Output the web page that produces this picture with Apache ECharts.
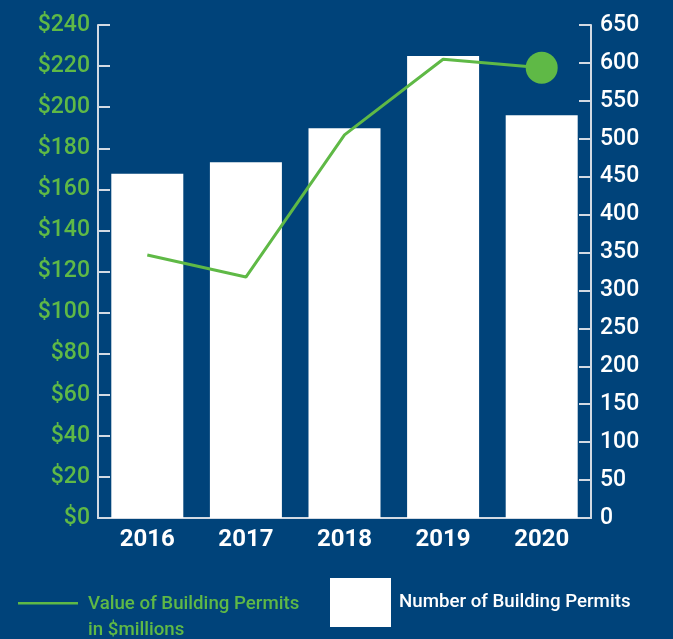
<!DOCTYPE html>
<html>
<head>
<meta charset="utf-8">
<script src="https://cdn.jsdelivr.net/npm/echarts@6/dist/echarts.min.js"></script>
<style>
    html, body { margin: 0; padding: 0; background: #00437a; }
    #chart { width: 673px; height: 639px; }
</style>
</head>
<body>
<div id="chart"></div>
<script>
// data
const years = ['2016', '2017', '2018', '2019', '2020'];
const permitCount = [454, 469, 514, 609, 531];          // bars, right axis
const permitValue = [128, 117.3, 186.5, 223.3, 219.2];  // line, left axis ($ millions)
const valueTicks = { min: 0, max: 240, step: 20 };
const countTicks = { min: 0, max: 650, step: 50 };

const green = '#5fb946';
const axisGray = '#d3dae3';
const font = 'Roboto, "Liberation Sans", Arial, sans-serif';

const chart = echarts.init(document.getElementById('chart'));

chart.setOption({
    backgroundColor: '#00437a',
    animation: false,
    grid: { left: 98, right: 82, top: 25, bottom: 121 },
    legend: [
        {
            left: 18,
            top: 591,
            padding: 0,
            data: ['Value of Building Permits'],
            // thin line sitting at the first text row
            icon: 'path://M0,0L0.01,0M0,11H60V13.5H0ZM0,52L0.01,52',
            itemWidth: 60,
            itemHeight: 52,
            formatter: name => name + '\nin $millions',
            textStyle: { color: green, fontSize: 18.7, fontWeight: 500, fontFamily: font, lineHeight: 26, padding: [0, 0, 0, 5] }
        },
        {
            left: 330,
            top: 578,
            padding: 0,
            data: ['Number of Building Permits'],
            icon: 'rect',
            itemWidth: 61,
            itemHeight: 49,
            textStyle: { color: '#ffffff', fontSize: 18.7, fontWeight: 500, fontFamily: font, padding: [12, 0, 0, 3] }
        }
    ],
    xAxis: {
        type: 'category',
        data: years,
        axisLine: { lineStyle: { color: axisGray, width: 2 } },
        axisTick: { show: false },
        axisLabel: { color: '#ffffff', fontSize: 24, fontWeight: 'bold', fontFamily: font, margin: 10 }
    },
    yAxis: [
        {
            type: 'value',
            position: 'left',
            min: valueTicks.min,
            max: valueTicks.max,
            interval: valueTicks.step,
            splitLine: { show: false },
            axisLine: { show: true, lineStyle: { color: axisGray, width: 2 } },
            axisTick: { show: true, inside: true, length: 12, lineStyle: { color: axisGray, width: 2 } },
            axisLabel: { color: green, fontSize: 23, fontWeight: 500, fontFamily: font, margin: 8, formatter: v => '$' + v }
        },
        {
            type: 'value',
            position: 'right',
            min: countTicks.min,
            max: countTicks.max,
            interval: countTicks.step,
            splitLine: { show: false },
            axisLine: { show: true, lineStyle: { color: axisGray, width: 2 } },
            axisTick: { show: true, inside: true, length: 12, lineStyle: { color: axisGray, width: 2 } },
            axisLabel: { color: '#ffffff', fontSize: 23, fontWeight: 500, fontFamily: font, margin: 9 }
        }
    ],
    series: [
        {
            name: 'Number of Building Permits',
            type: 'bar',
            yAxisIndex: 1,
            barWidth: 72,
            itemStyle: { color: '#ffffff' },
            data: permitCount
        },
        {
            name: 'Value of Building Permits',
            type: 'line',
            yAxisIndex: 0,
            color: green,
            symbol: 'none',
            lineStyle: { color: green, width: 3 },
            data: permitValue.map((v, i) => i === permitValue.length - 1
                ? { value: v, symbol: 'circle', symbolSize: 32, itemStyle: { color: green } }
                : v)
        }
    ]
});
</script>
</body>
</html>
